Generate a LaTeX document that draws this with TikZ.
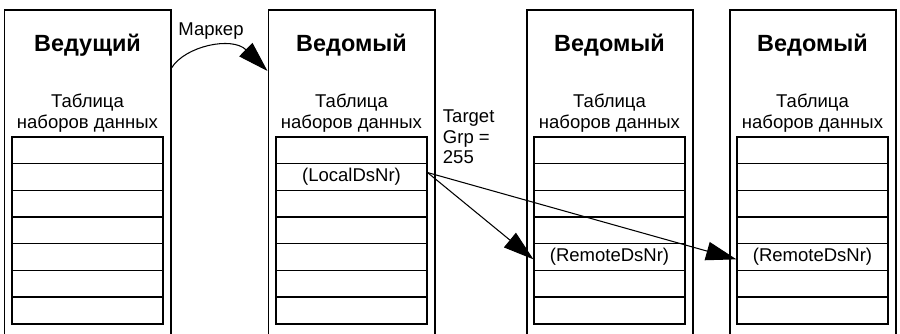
\documentclass[tikz,border=0pt]{standalone}
\usepackage{fontspec}
\setmainfont{Liberation Sans}
\usetikzlibrary{arrows.meta}
\tikzset{
  frame/.style={draw, line width=1.7pt, minimum width=4.98cm, minimum height=11cm, anchor=north},
  cell/.style={draw, line width=0.9pt, minimum width=4.53cm, minimum height=0.8cm, inner sep=0pt},
  title/.style={font=\fontsize{20}{24}\selectfont\bfseries, anchor=base, inner sep=0pt},
  txt/.style={font=\fontsize{15.8}{17.7}\selectfont, align=center, anchor=base, inner sep=0pt},
  bigtip/.style={-{Triangle[length=26pt,width=16pt]}, line width=0.9pt},
}
\begin{document}
\begin{tikzpicture}[x=0.03cm, y=-0.03cm]
    \path[use as bounding box, clip] (0,0) rectangle (900,333);
    \foreach \i/\cx/\ttl in {1/87.5/Ведущий, 2/351.5/Ведомый, 3/609.5/Ведомый, 4/812.5/Ведомый} {
        \node[frame] (f\i) at (\cx,9) {};
        \node[title] (h\i) at (\cx,51.7) {\ttl};
        \node[txt] (c\i) at (\cx,128.3) {Таблица\\наборов данных};
        \foreach \r in {1,...,7}
            \node[cell] (t\i-\r) at (\cx,{150.33+26.67*(\r-1)}) {};
        \draw[line width=1.5pt] (t\i-1.north west) rectangle (t\i-7.south east);
    }
    \node[txt, anchor=center] (ld) at (t2-2) {(LocalDsNr)};
    \node[txt, anchor=center] (rd3) at (t3-5) {(RemoteDsNr)};
    \node[txt, anchor=center] (rd4) at (t4-5) {(RemoteDsNr)};
    \node[txt] (mk) at (211,35.7) {Маркер};
    \node[txt, align=left, anchor=base west] (tg) at (442.7,163.9) {Target\\Grp =\\255};
    \draw[bigtip] (f1.east |- 0,68) .. controls (185,46) and (232,36) .. (f2.west |- 0,71);
    \draw[bigtip] ([yshift=3.8pt]t2-2.east) -- ([yshift=-2pt]t3-5.west);
    \draw[bigtip] ([yshift=3.8pt]t2-2.east) -- ([yshift=-2pt]t4-5.west);
\end{tikzpicture}
\end{document}
